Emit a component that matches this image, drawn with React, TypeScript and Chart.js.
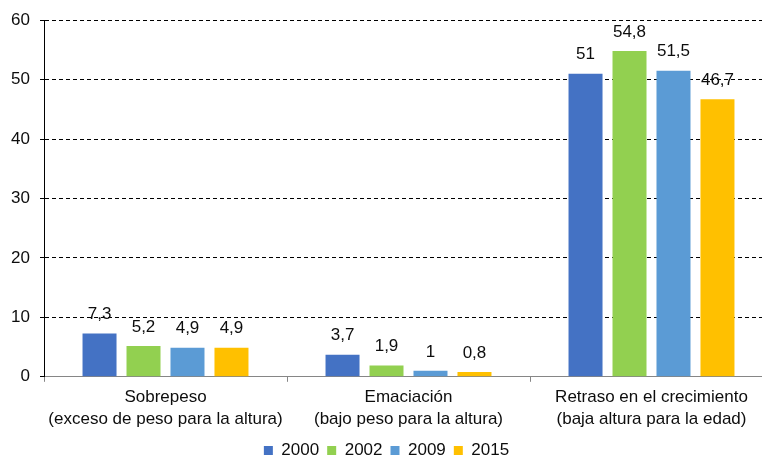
import React, { useEffect, useRef } from "react";
import { Chart, registerables } from "chart.js";

Chart.register(...registerables);

const categories: string[][] = [
  ["Sobrepeso", "(exceso de peso para la altura)"],
  ["Emaciación", "(bajo peso para la altura)"],
  ["Retraso en el crecimiento", "(baja altura para la edad)"],
];
const seriesNames = ["2000", "2002", "2009", "2015"];
const values2000 = [7.3, 3.7, 51];
const values2002 = [5.2, 1.9, 54.8];
const values2009 = [4.9, 1, 51.5];
const values2015 = [4.9, 0.8, 46.7];
const seriesColors = ["#4472C4", "#92D050", "#5B9BD5", "#FFC000"];
const yTicks = [0, 10, 20, 30, 40, 50, 60];

const FONT = "'Liberation Sans', Arial, sans-serif";
const TEXT = "#0d0d0d";

const dataLabelPlugin = {
  id: "dataLabels",
  afterDatasetsDraw(chart: any) {
    const ctx = chart.ctx;
    ctx.save();
    ctx.font = `17px ${FONT}`;
    ctx.fillStyle = TEXT;
    ctx.textAlign = "center";
    ctx.textBaseline = "middle";
    chart.data.datasets.forEach((ds: any, i: number) => {
      const meta = chart.getDatasetMeta(i);
      meta.data.forEach((bar: any, j: number) => {
        const v = ds.data[j];
        const txt = String(v).replace(".", ",");
        ctx.fillText(txt, bar.x, bar.y - 19);
      });
    });
    ctx.restore();
  },
};

export default function App() {
  const ref = useRef<HTMLCanvasElement | null>(null);
  useEffect(() => {
    if (!ref.current) return;
    const all = [values2000, values2002, values2009, values2015];
    const chart = new Chart(ref.current, {
      type: "bar",
      data: {
        labels: categories,
        datasets: seriesNames.map((n, i) => ({
          label: n,
          data: all[i],
          backgroundColor: seriesColors[i],
          borderWidth: 0,
          categoryPercentage: 0.724,
          barPercentage: 0.773,
        })),
      },
      options: {
        responsive: false,
        animation: false,
        layout: { padding: { top: 17, right: 5, left: 0, bottom: 0 } },
        plugins: {
          tooltip: { enabled: false },
          legend: {
            position: "bottom",
            labels: {
              boxWidth: 9,
              boxHeight: 9,
              padding: 8,
              color: TEXT,
              font: { family: FONT, size: 17 },
            },
          },
        },
        scales: {
          x: {
            border: { display: true, color: "#868686", width: 1 },
            grid: {
              display: true,
              drawOnChartArea: false,
              drawTicks: true,
              tickLength: 5,
              color: "#868686",
            },
            ticks: {
              color: TEXT,
              font: { family: FONT, size: 17, lineHeight: 1.3 },
              padding: 4,
              maxRotation: 0,
            },
          },
          y: {
            min: 0,
            max: 60,
            afterBuildTicks: (axis: any) => {
              axis.ticks = yTicks.map((v) => ({ value: v }));
            },
            afterFit: (axis: any) => {
              axis.width = 44;
            },
            border: { display: true, color: "#000000", width: 1, dash: [4, 3] },
            grid: {
              color: (c: any) => (c.tick && c.tick.value === 0 ? "rgba(0,0,0,0)" : "#000000"),
              lineWidth: 1,
              tickLength: 4,
              drawTicks: true,
              tickColor: "#000000",
              tickBorderDash: [4, 3],
            },
            ticks: {
              color: TEXT,
              font: { family: FONT, size: 17 },
              padding: 10,
            },
          },
        },
      },
      plugins: [dataLabelPlugin],
    } as any);
    return () => chart.destroy();
  }, []);
  return (
    <div
      style={{
        position: "fixed",
        left: 0,
        top: 0,
        width: 762,
        height: 456,
        overflow: "hidden",
        background: "#fff",
      }}
    >
      <canvas ref={ref} width={778} height={469} style={{ width: 778, height: 469 }} />
    </div>
  );
}
